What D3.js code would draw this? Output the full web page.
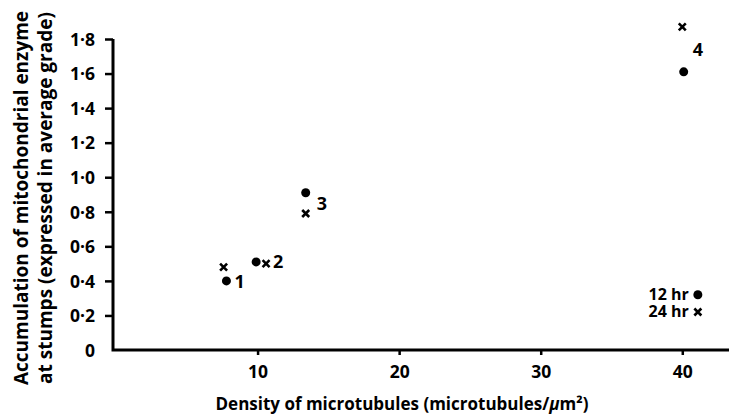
<!DOCTYPE html>
<html>
<head>
<meta charset="utf-8">
<script src="https://cdn.jsdelivr.net/npm/d3@7"></script>
<style>
  body { margin: 0; background: #fff; }
  svg text { font-family: 'Open Sans', 'DejaVu Sans', sans-serif; font-weight: bold; fill: #000; }
</style>
</head>
<body>
<div class="container"></div>
<script>
// Data
const pointIds = ['1', '2', '3', '4'];
const density12hr = [7.8, 9.9, 13.4, 40.1];
const enzyme12hr = [0.40, 0.51, 0.91, 1.61];
const density24hr = [7.6, 10.6, 13.4, 40.0];
const enzyme24hr = [0.48, 0.50, 0.79, 1.87];

const xTicks = [10, 20, 30, 40];
const yTicks = [0, 0.2, 0.4, 0.6, 0.8, 1.0, 1.2, 1.4, 1.6, 1.8];

const legendNames = ['12 hr', '24 hr'];
const legendDensity = [41.1, 41.1];
const legendEnzyme = [0.32, 0.22];

// label nudges (px) for the point numbers
const labelDx = [8, 7, 11, 9];
const labelDy = [1, 0, 11, -22];

const width = 730;
const height = 416;

const svg = d3
  .select('.container')
  .append('svg')
  .attr('width', width)
  .attr('height', height);

const x = d3.scaleLinear().domain([0, 43.3]).range([116, 729]);
const y = d3.scaleLinear().domain([0, 1.8]).range([350, 39]);

const fmt = (d) => (d === 0 ? '0' : d3.format('.1f')(d).replace('.', '\u00B7'));

// y axis
const yAxis = svg
  .append('g')
  .attr('transform', 'translate(113,0)')
  .call(d3.axisLeft(y).tickValues(yTicks).tickSize(8).tickPadding(10).tickFormat(fmt));
yAxis.select('.domain').remove();
yAxis.selectAll('.tick line').attr('stroke', '#000').attr('stroke-width', 2.5)
  .filter((d) => d === 0).remove();
yAxis.selectAll('.tick text').style('font-size', '17.5px').attr('dy', '0.36em');

// x axis
const xAxis = svg
  .append('g')
  .attr('transform', 'translate(0,350)')
  .call(d3.axisBottom(x).tickValues(xTicks).tickSize(5).tickPadding(11));
xAxis.select('.domain').remove();
xAxis.selectAll('.tick line').attr('stroke', '#000').attr('stroke-width', 2.5);
xAxis.selectAll('.tick text').style('font-size', '17.5px');

// axis frame
svg
  .append('path')
  .attr('d', `M${113},${y(1.8)}V${y(0)}H${x(43.3)}`)
  .attr('fill', 'none')
  .attr('stroke', '#000')
  .attr('stroke-width', 3);

// titles
svg
  .append('text')
  .attr('x', 402)
  .attr('y', 410)
  .attr('text-anchor', 'middle')
  .style('font-size', '17px')
  .html('Density of microtubules (microtubules/<tspan font-style="italic">\u03BC</tspan>m\u00B2)');

const yTitle = svg
  .append('text')
  .attr('transform', 'translate(0,198) rotate(-90)')
  .attr('text-anchor', 'middle')
  .style('font-size', '19px');
yTitle.append('tspan').attr('x', 0).attr('y', 28).text('Accumulation of mitochondrial enzyme');
yTitle.append('tspan').attr('x', 0).attr('y', 52).text('at stumps (expressed in average grade)');

const crossPath = (cx, cy, r) =>
  `M${cx - r},${cy - r}L${cx + r},${cy + r}M${cx + r},${cy - r}L${cx - r},${cy + r}`;

// 12 hr points (filled circles)
svg
  .append('g')
  .selectAll('circle')
  .data(pointIds)
  .enter()
  .append('circle')
  .attr('cx', (d, i) => x(density12hr[i]))
  .attr('cy', (d, i) => y(enzyme12hr[i]))
  .attr('r', 4.5)
  .attr('fill', '#000');

// 24 hr points (crosses)
svg
  .append('g')
  .selectAll('path')
  .data(pointIds)
  .enter()
  .append('path')
  .attr('d', (d, i) => crossPath(x(density24hr[i]), y(enzyme24hr[i]), 3.5))
  .attr('stroke', '#000')
  .attr('stroke-width', 2.6);

// point numbers
svg
  .append('g')
  .selectAll('text')
  .data(pointIds)
  .enter()
  .append('text')
  .attr('x', (d, i) => Math.max(x(density12hr[i]), x(density24hr[i])) + labelDx[i])
  .attr('y', (d, i) => y(enzyme12hr[i]) + labelDy[i])
  .attr('dy', '0.36em')
  .style('font-size', '18px')
  .text((d) => d);

// legend
const legend = svg.append('g').attr('id', 'legend');
legend
  .append('circle')
  .attr('cx', x(legendDensity[0]))
  .attr('cy', y(legendEnzyme[0]))
  .attr('r', 4.5)
  .attr('fill', '#000');
legend
  .append('path')
  .attr('d', crossPath(x(legendDensity[1]), y(legendEnzyme[1]), 3.5))
  .attr('stroke', '#000')
  .attr('stroke-width', 2.6);
legend
  .selectAll('text')
  .data(legendNames)
  .enter()
  .append('text')
  .attr('x', (d, i) => x(legendDensity[i]) - 9)
  .attr('y', (d, i) => y(legendEnzyme[i]))
  .attr('dy', '0.34em')
  .attr('text-anchor', 'end')
  .style('font-size', '16px')
  .text((d) => d);
</script>
</body>
</html>
